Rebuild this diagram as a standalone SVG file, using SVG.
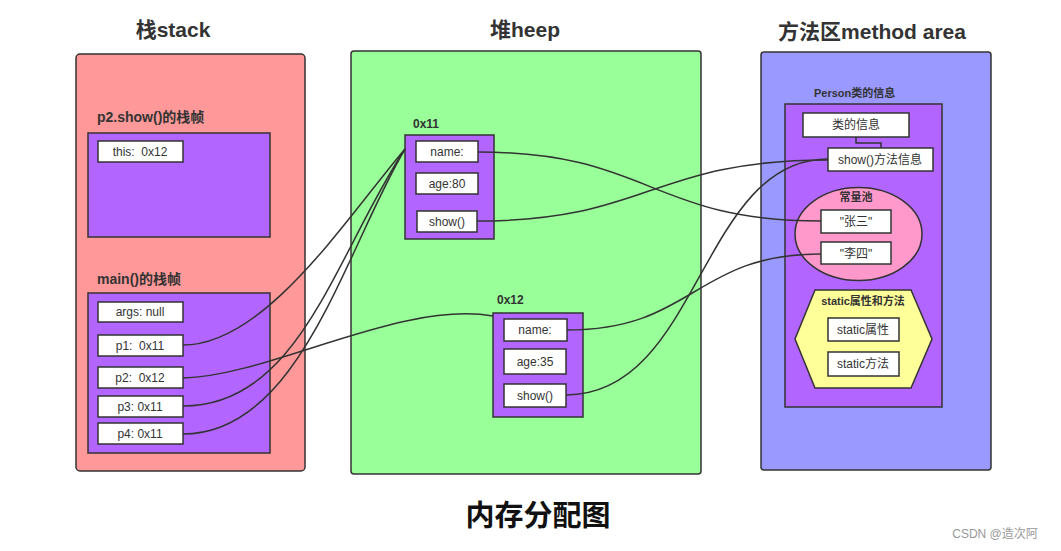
<svg xmlns="http://www.w3.org/2000/svg" width="1061" height="551" viewBox="0 0 1061 551">
<style>
.area{stroke:#333;stroke-width:1.5}
.pbox{fill:#B266FF;stroke:#333;stroke-width:1.5}
.cell{fill:#fff;stroke:#333;stroke-width:1.5}
.t{font-family:"Liberation Sans","Noto Sans CJK SC",sans-serif;font-size:12px;fill:#333;text-anchor:middle;white-space:pre}
.lbl{font-family:"Liberation Sans","Noto Sans CJK SC",sans-serif;font-size:14px;font-weight:bold;fill:#333}
.sl{font-family:"Liberation Sans","Noto Sans CJK SC",sans-serif;font-size:11px;font-weight:bold;fill:#333}
.title{font-family:"Liberation Sans","Noto Sans CJK SC",sans-serif;font-size:21px;font-weight:bold;fill:#333;text-anchor:middle}
.conn path{fill:none;stroke:#333;stroke-width:1.5}
</style>
<rect width="1061" height="551" fill="#fff"/>
<g id="titles">
<text class="title" x="173" y="37">栈stack</text>
<text class="title" x="525" y="37">堆heep</text>
<text class="title" x="872" y="39">方法区method area</text>
<text class="title" x="538" y="526" style="font-size:29px;fill:#111">内存分配图</text>
</g>
<g id="stack">
<rect class="area" x="76" y="54" width="229" height="417" rx="4" fill="#FF9999"/>
</g>
<g id="heap">
<rect class="area" x="351" y="51" width="350" height="423" rx="3" fill="#99FF99"/>
</g>
<g id="method-area">
<rect class="area" x="761" y="52" width="230" height="418" rx="3" fill="#9999FF"/>
</g>
<g id="frame-show">
<text class="lbl" x="97" y="122">p2.show()的栈帧</text>
<rect class="pbox" x="88" y="133" width="182" height="104"/>
<rect class="cell" x="98" y="141" width="85" height="21"/>
<text class="t" x="140" y="156">this:  0x12</text>
</g>
<g id="frame-main">
<text class="lbl" x="97" y="284">main()的栈帧</text>
<rect class="pbox" x="88" y="293" width="182" height="160"/>
<rect class="cell" x="98" y="302" width="85" height="20"/>
<text class="t" x="140" y="316">args: null</text>
<rect class="cell" x="98" y="335" width="85" height="21"/>
<text class="t" x="140" y="350">p1:  0x11</text>
<rect class="cell" x="98" y="367" width="85" height="21"/>
<text class="t" x="140" y="382">p2:  0x12</text>
<rect class="cell" x="98" y="396" width="85" height="21"/>
<text class="t" x="140" y="411">p3: 0x11</text>
<rect class="cell" x="98" y="423" width="85" height="21"/>
<text class="t" x="140" y="438">p4: 0x11</text>
</g>
<g id="obj-0x11">
<text class="lbl" x="413" y="128" style="font-size:12px">0x11</text>
<rect class="pbox" x="405" y="135" width="89" height="104"/>
<rect class="cell" x="416" y="141" width="62" height="21"/>
<text class="t" x="447" y="156">name:</text>
<rect class="cell" x="416" y="173" width="62" height="21"/>
<text class="t" x="447" y="188">age:80</text>
<rect class="cell" x="417" y="211" width="60" height="21"/>
<text class="t" x="447" y="226">show()</text>
</g>
<g id="obj-0x12">
<text class="lbl" x="497" y="304" style="font-size:12px">0x12</text>
<rect class="pbox" x="493" y="313" width="90" height="104"/>
<rect class="cell" x="504" y="319" width="63" height="22"/>
<text class="t" x="535" y="334">name:</text>
<rect class="cell" x="504" y="349" width="62" height="25"/>
<text class="t" x="535" y="366">age:35</text>
<rect class="cell" x="504" y="384" width="62" height="23"/>
<text class="t" x="535" y="400">show()</text>
</g>
<g id="person-class">
<text class="sl" x="814" y="97">Person类的信息</text>
<rect class="pbox" x="785" y="104" width="157" height="303"/>
<rect class="cell" x="803" y="113" width="106" height="24"/>
<text class="t" x="856" y="129">类的信息</text>
<path d="M856,137 V143 H881 V148" fill="none" stroke="#333" stroke-width="1.5"/>
<rect class="cell" x="828" y="148" width="105" height="23"/>
<text class="t" x="880" y="164">show()方法信息</text>
</g>
<g id="constant-pool">
<ellipse cx="858.5" cy="234" rx="63.5" ry="46.5" fill="#FF99CC" stroke="#333" stroke-width="1.5"/>
<text class="t" x="856" y="201" style="font-size:11px;font-weight:bold">常量池</text>
<rect class="cell" x="821" y="210" width="70" height="23"/>
<text class="t" x="856" y="226">"张三"</text>
<rect class="cell" x="821" y="242" width="70" height="22"/>
<text class="t" x="856" y="258">"李四"</text>
</g>
<g id="static">
<polygon points="795,339 815,290 911,290 932,339 911,388 815,388" fill="#FFFF99" stroke="#333" stroke-width="1.5"/>
<text class="sl" x="863" y="305" text-anchor="middle">static属性和方法</text>
<rect class="cell" x="828" y="318" width="71" height="23"/>
<text class="t" x="863" y="334">static属性</text>
<rect class="cell" x="828" y="352" width="71" height="24"/>
<text class="t" x="863" y="368">static方法</text>
</g>
<g id="connectors" class="conn">
<path d="M183,345 C265,345 345,220 405,149"/>
<path d="M183,378 C270,376 400,300 493,316"/>
<path d="M183,406 C300,406 335,255 405,149"/>
<path d="M183,434 C300,434 345,250 405,149"/>
<path d="M478,152 C650,152 650,221 821,221"/>
<path d="M477,221 C650,221 650,160 828,160"/>
<path d="M567,330 C694,330 694,254 821,254"/>
<path d="M566,395 C700,395 700,159 828,159"/>
</g>
<text x="995" y="538" font-family="Liberation Sans,Noto Sans CJK SC,sans-serif" font-size="12" fill="#999" text-anchor="middle">CSDN @造次阿</text>
</svg>
